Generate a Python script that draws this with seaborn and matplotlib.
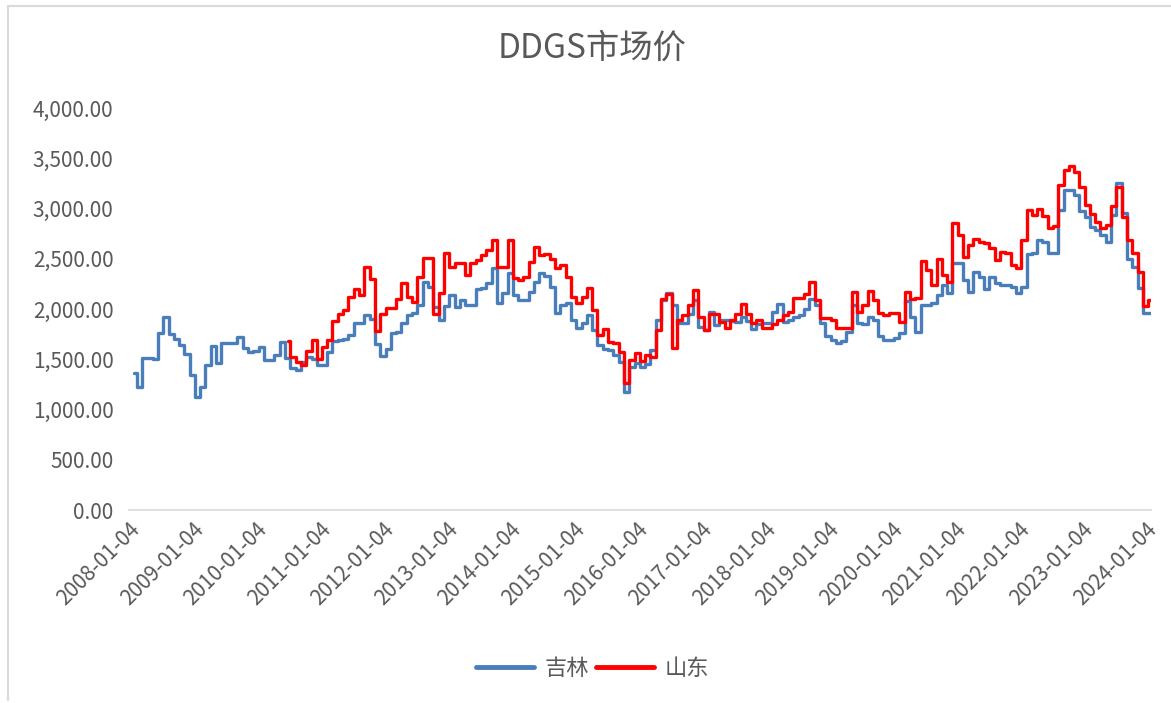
import numpy as np
import pandas as pd
import matplotlib
matplotlib.use("Agg")
import matplotlib.pyplot as plt
from matplotlib.ticker import FuncFormatter
from matplotlib.lines import Line2D
import seaborn as sns

# ---------------- data (monthly readings, 2008-01 .. 2024-01) ----------------
dates = pd.date_range("2008-01-04", periods=193, freq="MS") + pd.Timedelta(days=3)

jilin = [
    1360, 1227, 1510, 1509, 1500, 1765, 1924, 1750, 1700, 1642, 1550, 1343,
    1127, 1227, 1443, 1632, 1459, 1658, 1658, 1660, 1720, 1609, 1575, 1585,
    1620, 1493, 1493, 1542, 1675, 1509, 1410, 1393, 1476, 1526, 1500, 1443,
    1443, 1575, 1685, 1692, 1700, 1741, 1857, 1860, 1945, 1900, 1650, 1535,
    1600, 1758, 1775, 1860, 1940, 1957, 2040, 2272, 2222, 2023, 1890, 2030,
    2140, 2015, 2085, 2040, 2040, 2195, 2210, 2262, 2405, 2056, 2156, 2355,
    2140, 2090, 2090, 2165, 2272, 2355, 2330, 2222, 1957, 2040, 2060, 1890,
    1815, 1860, 1940, 1791, 1642, 1600, 1590, 1542, 1476, 1170, 1426, 1459,
    1420, 1453, 1592, 1891, 2090, 2156, 2040, 1857, 1862, 1950, 2090, 1824,
    1791, 1974, 1841, 1891, 1891, 1880, 1874, 1917, 1884, 1797, 1850, 1857,
    1857, 1974, 2050, 1874, 1891, 1924, 1940, 1997, 2100, 2040, 1857, 1731,
    1692, 1658, 1680, 1768, 2040, 1860, 1850, 1917, 1891, 1731, 1692, 1692,
    1708, 1758, 2083, 1924, 1775, 2040, 2040, 2056, 2140, 2239, 2163, 2455,
    2455, 2289, 2172, 2371, 2322, 2195, 2322, 2262, 2239, 2239, 2222, 2156,
    2222, 2547, 2554, 2687, 2670, 2560, 2554, 2985, 3184, 3184, 3134, 2975,
    2919, 2819, 2786, 2737, 2670, 2935, 3250, 2952, 2495, 2421, 2206, 1957,
    1957,
]

shandong = [np.nan] * 29 + [
    1680, 1520, 1476, 1443, 1580, 1690, 1500,
    1625, 1690, 1880, 1950, 1990, 2120, 2200, 2140, 2420, 2300, 1780, 1950,
    2007, 2007, 2100, 2255, 2123, 2070, 2322, 2504, 2504, 1950, 2156, 2554,
    2421, 2455, 2455, 2340, 2455, 2488, 2540, 2590, 2690, 2420, 2420, 2690,
    2305, 2289, 2322, 2470, 2620, 2540, 2550, 2495, 2405, 2440, 2322, 2123,
    2056, 2120, 2206, 1990, 1741, 1800, 1675, 1658, 1575, 1260, 1493, 1559,
    1486, 1542, 1526, 1791, 2100, 2150, 1609, 1891, 1940, 2040, 2189, 1924,
    1791, 1950, 1950, 1874, 1808, 1891, 1950, 2050, 1950, 1857, 1891, 1808,
    1808, 1850, 1891, 1940, 1974, 2106, 2106, 2150, 2272, 2090, 1907, 1907,
    1891, 1808, 1808, 1808, 2172, 1974, 2040, 2180, 2090, 1957, 1940, 1957,
    1957, 1874, 2172, 2100, 2106, 2480, 2388, 2240, 2500, 2340, 2272, 2852,
    2737, 2521, 2637, 2693, 2670, 2653, 2604, 2488, 2570, 2554, 2438, 2405,
    2687, 2985, 2935, 2990, 2927, 2810, 2826, 3234, 3383, 3423, 3367, 3210,
    3035, 2945, 2869, 2802, 2836, 3025, 3210, 2919, 2687, 2554, 2371, 2030,
    2090,
]

series_names = ["吉林", "山东"]
colors = ["#4A7EBB", "#FF0000"]
title = "DDGS市场价"
tick_years = list(range(2008, 2025))
y_ticks = [0, 500, 1000, 1500, 2000, 2500, 3000, 3500, 4000]

df = pd.DataFrame({"date": dates, series_names[0]: jilin, series_names[1]: shandong})
long_df = df.melt(id_vars="date", var_name="地区", value_name="价格")

# ---------------- plot ----------------
sns.set_theme(style="white")
plt.rcParams["font.family"] = ["Noto Sans CJK SC", "DejaVu Sans"]

fig = plt.figure(figsize=(11.71, 7.03), dpi=100)
ax = fig.add_axes([0.110, 0.2745, 0.873, 0.5719])

sns.lineplot(data=long_df, x="date", y="价格", hue="地区", hue_order=series_names,
             palette=colors, linewidth=2.4, ax=ax, legend=False,
             drawstyle="steps-mid")

ax.set_xlim(dates[0], dates[-1])
ax.set_ylim(0, 4000)
ax.set_yticks(y_ticks)
ax.yaxis.set_major_formatter(FuncFormatter(lambda v, p: f"{v:,.2f}"))
xt = [pd.Timestamp(f"{y}-01-04") for y in tick_years]
ax.set_xticks(xt)
ax.set_xticklabels([t.strftime("%Y-%m-%d") for t in xt], rotation=45,
                   ha="right", rotation_mode="anchor")
ax.tick_params(axis="both", colors="#595959", labelsize=15, length=0)
ax.tick_params(axis="y", pad=11)
ax.tick_params(axis="x", pad=6)
ax.set_xlabel("")
ax.set_ylabel("")
for s in ["top", "right", "left"]:
    ax.spines[s].set_visible(False)
ax.spines["bottom"].set_color("#D9D9D9")
ax.spines["bottom"].set_linewidth(1.2)
ax.grid(False)

fig.text(0.506, 0.931, title, ha="center", va="center", fontsize=24,
         color="#595959", fontweight="light")

handles = [Line2D([0], [0], color=c, lw=3.5) for c in colors]
fig.legend(handles, series_names, loc="center", bbox_to_anchor=(0.506, 0.049),
           ncol=2, frameon=False, fontsize=16, handlelength=2.6,
           columnspacing=0.3, handletextpad=0.5, labelcolor="#595959")

# outer chart border (left and top visible)
fig.add_artist(Line2D([0.007, 0.007], [0.004, 0.991], color="#D9D9D9", lw=1.5,
                      transform=fig.transFigure))
fig.add_artist(Line2D([0.007, 1.0], [0.991, 0.991], color="#D9D9D9", lw=1.5,
                      transform=fig.transFigure))

fig.savefig("out.png", dpi=100, facecolor="white")
